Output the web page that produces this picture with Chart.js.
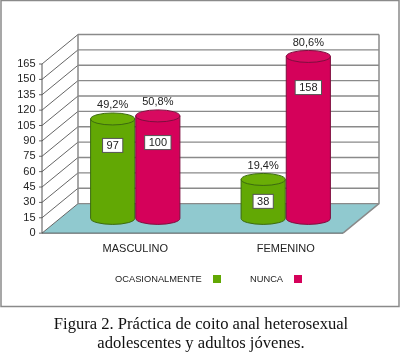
<!DOCTYPE html>
<html>
<head>
<meta charset="utf-8">
<style>
  html, body { margin: 0; padding: 0; background: #fff; }
  #wrap { width: 400px; height: 353px; }
</style>
<script src="https://cdn.jsdelivr.net/npm/chart.js@4"></script>
</head>
<body>
<div id="wrap"><canvas id="chart" width="400" height="353"></canvas></div>
<script>
const categories = ['MASCULINO', 'FEMENINO'];
const ocasionalmente = [97, 38];
const nunca = [100, 158];
const pctOcasionalmente = ['49,2%', '19,4%'];
const pctNunca = ['50,8%', '80,6%'];
const caption = ['Figura 2. Práctica de coito anal heterosexual', 'adolescentes y adultos jóvenes.'];

const GREEN = '#62a804', GREEN_TOP = '#6aae06', GREEN_EDGE = '#3c6a10';
const RED = '#d5015a', RED_TOP = '#d80a60', RED_EDGE = '#7d0f3e';
const FLOOR = '#90c9cf';
const LINE = '#8a8a8a';
const TEXT = '#222';
// half of the 3d depth, the scales sit on the middle plane
const DX = 18, DY = 14.75;

function drawCylinder(ctx, bar, color, topColor, edge) {
  const rx = bar.width / 2 - 0.5, ry = 6;
  const x = bar.x, top = bar.y - DY, bottom = bar.base - DY;
  ctx.lineWidth = 1;
  ctx.strokeStyle = edge;
  ctx.fillStyle = color;
  ctx.beginPath();
  ctx.moveTo(x - rx, top);
  ctx.lineTo(x - rx, bottom);
  ctx.ellipse(x, bottom, rx, ry, 0, Math.PI, 0, true);
  ctx.lineTo(x + rx, top);
  ctx.closePath();
  ctx.fill();
  ctx.stroke();
  ctx.fillStyle = topColor;
  ctx.beginPath();
  ctx.ellipse(x, top, rx, ry, 0, 0, Math.PI * 2);
  ctx.fill();
  ctx.stroke();
}

function drawLabels(ctx, bar, value, pct) {
  const top = bar.y - DY, h = bar.base - bar.y;
  ctx.textAlign = 'center';
  ctx.textBaseline = 'middle';
  ctx.font = '11px "Liberation Sans"';
  ctx.fillStyle = TEXT;
  ctx.fillText(pct, bar.x, top - 13.5);
  const boxY = top + 19 + 0.075 * h;
  const w = ctx.measureText(String(value)).width + 8;
  ctx.fillStyle = '#fff';
  ctx.fillRect(bar.x - w / 2, boxY - 7, w, 14);
  ctx.strokeStyle = '#555';
  ctx.strokeRect(bar.x - w / 2, boxY - 7, w, 14);
  ctx.fillStyle = TEXT;
  ctx.fillText(String(value), bar.x, boxY + 0.5);
}

const scene3d = {
  id: 'scene3d',
  beforeDraw(chart) {
    const ctx = chart.ctx;
    ctx.save();
    ctx.fillStyle = '#fff';
    ctx.fillRect(0, 0, chart.width, chart.height);
    ctx.strokeStyle = LINE;
    ctx.lineWidth = 1.5;
    ctx.strokeRect(1, 0.5, 398, 306);
    ctx.restore();
  },
  beforeDatasetsDraw(chart) {
    const ctx = chart.ctx, a = chart.chartArea, y = chart.scales.y;
    const l = a.left - DX, r = a.right - DX;
    const backL = a.left + DX, backR = a.right + DX, shift = DY * 2;
    const y0 = y.getPixelForValue(0), yMax = y.getPixelForValue(y.max);
    ctx.save();
    // floor
    ctx.fillStyle = FLOOR;
    ctx.beginPath();
    ctx.moveTo(l, y0);
    ctx.lineTo(backL, y0 - shift);
    ctx.lineTo(backR, y0 - shift);
    ctx.lineTo(r, y0);
    ctx.closePath();
    ctx.fill();
    // wall grid
    y.ticks.forEach(t => {
      const py = y.getPixelForValue(t.value);
      ctx.lineWidth = 1;
      ctx.strokeStyle = '#666';
      ctx.beginPath();
      ctx.moveTo(l - 3, py);
      ctx.lineTo(l, py);
      ctx.lineTo(backL, py - shift);
      ctx.stroke();
      ctx.strokeStyle = LINE;
      ctx.lineWidth = 1.4;
      ctx.beginPath();
      ctx.moveTo(backL, py - shift);
      ctx.lineTo(backR, py - shift);
      ctx.stroke();
    });
    ctx.lineWidth = 1.5;
    ctx.strokeStyle = LINE;
    ctx.beginPath();
    ctx.moveTo(backL, y0 - shift);
    ctx.lineTo(backL, yMax - shift);
    ctx.moveTo(backR, yMax - shift);
    ctx.lineTo(backR, y0 - shift);
    ctx.lineTo(r, y0);
    ctx.stroke();
    ctx.strokeStyle = '#555';
    ctx.lineWidth = 1;
    ctx.beginPath();
    ctx.moveTo(l, yMax);
    ctx.lineTo(l, y0);
    ctx.lineTo(r, y0);
    ctx.stroke();

    // cylinders, the library keeps the bar geometry
    const green = chart.getDatasetMeta(0).data, red = chart.getDatasetMeta(1).data;
    categories.forEach((c, i) => {
      drawCylinder(ctx, green[i], GREEN, GREEN_TOP, GREEN_EDGE);
      drawCylinder(ctx, red[i], RED, RED_TOP, RED_EDGE);
    });
    categories.forEach((c, i) => {
      drawLabels(ctx, green[i], ocasionalmente[i], pctOcasionalmente[i]);
      drawLabels(ctx, red[i], nunca[i], pctNunca[i]);
    });

    // legend, swatch after the text
    ctx.font = '9.3px "Liberation Sans"';
    ctx.textAlign = 'left';
    ctx.textBaseline = 'middle';
    const items = [[115, 213], [250, 294]];
    chart.data.datasets.forEach((ds, i) => {
      ctx.fillStyle = TEXT;
      ctx.fillText(ds.label, items[i][0], 279);
      ctx.fillStyle = ds.backgroundColor;
      ctx.fillRect(items[i][1], 275, 8, 8);
    });
    ctx.restore();
    return false;
  }
};

new Chart(document.getElementById('chart'), {
  type: 'bar',
  data: {
    labels: categories,
    datasets: [
      { label: 'OCASIONALMENTE', data: ocasionalmente, backgroundColor: GREEN },
      { label: 'NUNCA', data: nunca, backgroundColor: RED }
    ]
  },
  plugins: [scene3d],
  options: {
    responsive: false,
    animation: false,
    // left padding keeps the caption centred under the frame
    layout: { padding: { left: 2, right: 0, top: 64, bottom: 0 } },
    datasets: { bar: { barPercentage: 1, categoryPercentage: 0.6 } },
    plugins: {
      legend: { display: false },
      tooltip: { enabled: false },
      title: {
        display: true,
        position: 'bottom',
        text: caption,
        color: '#111',
        font: { family: '"Liberation Serif"', size: 16.6, weight: 'normal', lineHeight: 1.14 },
        padding: { top: 0, bottom: 0 }
      }
    },
    scales: {
      x: {
        grid: { display: false, drawTicks: false },
        border: { display: false },
        ticks: { padding: 9, color: TEXT, font: { family: '"Liberation Sans"', size: 11 }, maxRotation: 0 },
        afterFit(s) { s.height = 82; }
      },
      y: {
        min: 0,
        max: 165,
        grid: { display: false, drawTicks: false },
        border: { display: false },
        ticks: { stepSize: 15, autoSkip: false, padding: 24.5, color: TEXT, font: { family: '"Liberation Sans"', size: 11 } },
        afterFit(s) { s.width = 58; }
      },
      // empty axis, only holds the room right of the plot
      spacer: {
        position: 'right',
        grid: { display: false, drawTicks: false },
        border: { display: false },
        ticks: { display: false },
        afterFit(s) { s.width = 39; }
      }
    }
  }
});
</script>
</body>
</html>
